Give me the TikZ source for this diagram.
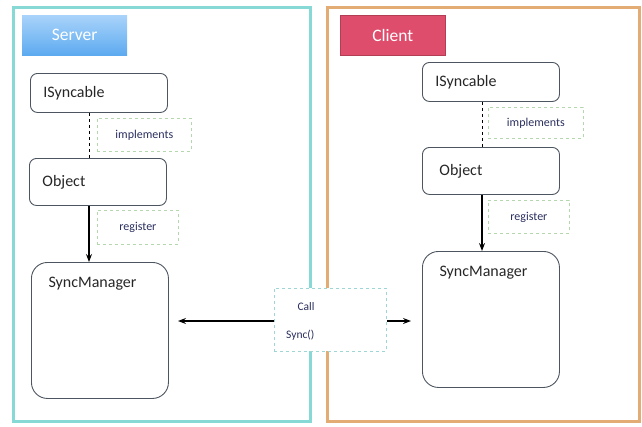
\documentclass[tikz,border=0pt]{standalone}
\usepackage{fontspec}
\setmainfont{Carlito}
\usetikzlibrary{arrows.meta}
\definecolor{servercyan}{HTML}{86D9D5}
\definecolor{clientorange}{HTML}{E3AC74}
\definecolor{tagblue}{HTML}{5DAAF0}
\definecolor{tagbluelight}{HTML}{A9D3FA}
\definecolor{tagred}{HTML}{DF4D6C}
\definecolor{notegreen}{HTML}{B5D7AE}
\definecolor{notecyan}{HTML}{9ED6D6}
\definecolor{notetext}{HTML}{2A2F5E}
\definecolor{boxline}{HTML}{4D5560}

\begin{document}
\begin{tikzpicture}[x=1pt, y=-1pt, >=Stealth,
    classbox/.style={draw=boxline, line width=0.9pt, rounded corners=7pt, anchor=north west,
      minimum width=137pt, minimum height=39pt, text width=111pt, inner xsep=13pt, align=left,
      font=\fontsize{16}{18}\selectfont, text=black!85},
    managerbox/.style={draw=boxline, line width=0.9pt, rounded corners=16pt, anchor=north west,
      minimum width=137pt, minimum height=136pt,
      label={[anchor=north west, xshift=14pt, yshift=-12pt, font=\fontsize{16}{18}\selectfont, text=black!85]north west:#1}},
    tagbox/.style={anchor=north west, minimum width=105pt, minimum height=40pt, text=white,
      font=\fontsize{17.5}{20}\selectfont},
    notebox/.style={draw=notegreen, dashed, line width=0.8pt, anchor=north west,
      minimum height=33pt, text=notetext, font=\fontsize{12}{14}\selectfont},
    smalltext/.style={text=notetext, font=\fontsize{11.5}{13}\selectfont}]
    \useasboundingbox (0,0) rectangle (642,426);

    % frames
    \draw[servercyan, line width=3pt] (13,7) rectangle (310,421);
    \draw[clientorange, line width=3pt] (327,7) rectangle (639,421);

    % server side
    \node[tagbox, top color=tagbluelight, bottom color=tagblue] (servertag) at (22,15) {Server};
    \node[classbox] (sisync) at (30,73) {ISyncable};
    \node[classbox, minimum height=47pt] (sobject) at (29,158) {Object};
    \node[managerbox=SyncManager] (smanager) at (31,262) {};
    \node[notebox, minimum width=94pt] (simpl) at (97,118) {implements};
    \node[notebox, minimum width=81pt, minimum height=34pt] (sreg) at (97,210) {register};
    \draw[dashed, line width=0.9pt] (sisync.south -| 89,0) -- (sobject.north -| 89,0);
    \draw[->, line width=1.1pt] (sobject.south -| 89,0) -- (smanager.north -| 89,0);

    % client side
    \node[tagbox, fill=tagred, draw=tagred!80!black, line width=0.5pt] (clienttag) at (340,15) {Client};
    \node[classbox] (cisync) at (422,62) {ISyncable};
    \node[classbox, minimum height=47pt, inner xsep=17pt, text width=103pt] (cobject) at (422,147) {Object};
    \node[managerbox=SyncManager] (cmanager) at (422,251) {};
    \node[notebox, minimum width=95pt, minimum height=31pt] (cimpl) at (488,107) {implements};
    \node[notebox, minimum width=81pt] (creg) at (488,200) {register};
    \draw[dashed, line width=0.9pt] (cisync.south -| 482,0) -- (cobject.north -| 482,0);
    \draw[->, line width=1.1pt] (cobject.south -| 482,0) -- (cmanager.north -| 482,0);

    % call sync
    \node[draw=notecyan, dashed, fill=white, line width=0.8pt, anchor=north west,
      minimum width=112pt, minimum height=63pt] (callbox) at (274,288) {};
    \node[smalltext, anchor=east] (calltext) at (318,307) {Call};
    \node[smalltext, anchor=east] (synctext) at (318,335) {Sync()};
    \coordinate (stip) at (178,321);
    \coordinate (ctip) at (411,321);
    \draw[->, line width=1.1pt] (callbox.west |- stip) -- (stip);
    \draw[->, line width=1.1pt] (callbox.east |- ctip) -- (ctip);
\end{tikzpicture}
\end{document}
